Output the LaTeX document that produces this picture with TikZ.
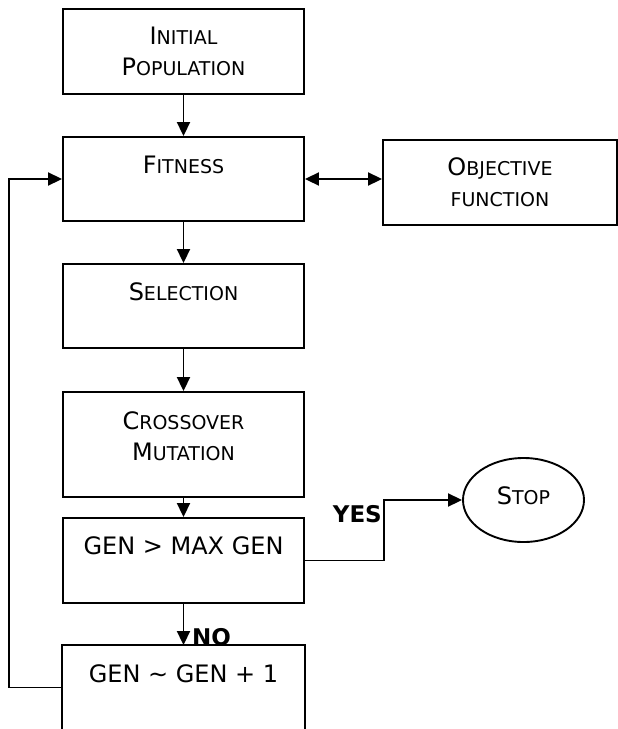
\documentclass[tikz,border=0pt]{standalone}
\usepackage{fontspec}
\setmainfont{DejaVu Sans}
\usetikzlibrary{arrows.meta,shapes.geometric,positioning}
\newcommand\smc[2]{#1{\fontsize{19}{31}\selectfont #2}}
\begin{document}
\begin{tikzpicture}[x=1pt,y=-1pt,
  box/.style={draw, line width=1.9pt, minimum width=241pt, inner sep=0pt},
  txt/.style={inner sep=0pt, align=center, font=\fontsize{24}{31}\selectfont},
  lbl/.style={inner sep=0pt, font=\fontsize{23}{28}\selectfont\bfseries},
  arr/.style={line width=1.9pt, -{Triangle[width=13pt,length=14pt]}},
  dbl/.style={line width=1.9pt, {Triangle[width=13pt,length=14pt]}-{Triangle[width=13pt,length=14pt]}},
  ln/.style={line width=1.9pt}]
\useasboundingbox[fill=white] (0,0) rectangle (618,729);
% boxes
\node[box, minimum height=85pt] (init) at (183.5,51.5) {};
\node[box, minimum height=84pt] (fit) at (183.5,179) {};
\node[box, minimum height=84pt] (sel) at (183.5,306) {};
\node[box, minimum height=105pt] (cross) at (183.5,444.5) {};
\node[box, minimum height=85pt] (gen) at (183.5,560.5) {};
\node[box, draw=none, minimum height=83pt] (inc) at (183.5,687.5) {};
\draw[ln] (inc.south west) -- (inc.north west) -- (inc.north east) -- (inc.south east);
\node[box, minimum width=234pt, minimum height=85pt] (obj) at (500,182.5) {};
\node[draw, line width=1.9pt, ellipse, minimum width=121pt, minimum height=84pt, inner sep=0pt,
      font=\fontsize{24}{31}\selectfont, text depth=8pt] (stop) at (523.5,500) {\smc{S}{TOP}};
% texts
\node[txt, below=19pt of init.north] (initT) {\smc{I}{NITIAL}\\\smc{P}{OPULATION}};
\node[txt, below=20pt of fit.north] (fitT) {\smc{F}{ITNESS}};
\node[txt, below=19pt of sel.north] (selT) {\smc{S}{ELECTION}};
\node[txt, below=20pt of cross.north] (crossT) {\smc{C}{ROSSOVER}\\\smc{M}{UTATION}};
\node[txt, below=19pt of gen.north] (genT) {GEN > MAX GEN};
\node[txt, below=19pt of inc.north] (incT) {GEN \textasciitilde{} GEN + 1};
\node[txt, below=18pt of obj.north] (objT) {\smc{O}{BJECTIVE}\\{\fontsize{19}{31}\selectfont FUNCTION}};
% connectors
\draw[arr] (init) -- (fit);
\draw[arr] (fit) -- (sel);
\draw[arr] (sel) -- (cross);
\draw[arr] (cross) -- (gen);
\draw[arr] (gen) -- (inc);
\draw[dbl] (fit.east) -- (fit.east -| obj.west);
\draw[arr] (inc.west) -- ([xshift=-53pt]inc.west) |- (fit.west);
\draw[arr] (gen.east) -- ([xshift=79pt]gen.east) |- (stop.west);
% labels
\node[lbl, anchor=base east] (yes) at (382,522) {YES};
\node[lbl, anchor=base west] (no) at (192,645) {NO};
\end{tikzpicture}
\end{document}
